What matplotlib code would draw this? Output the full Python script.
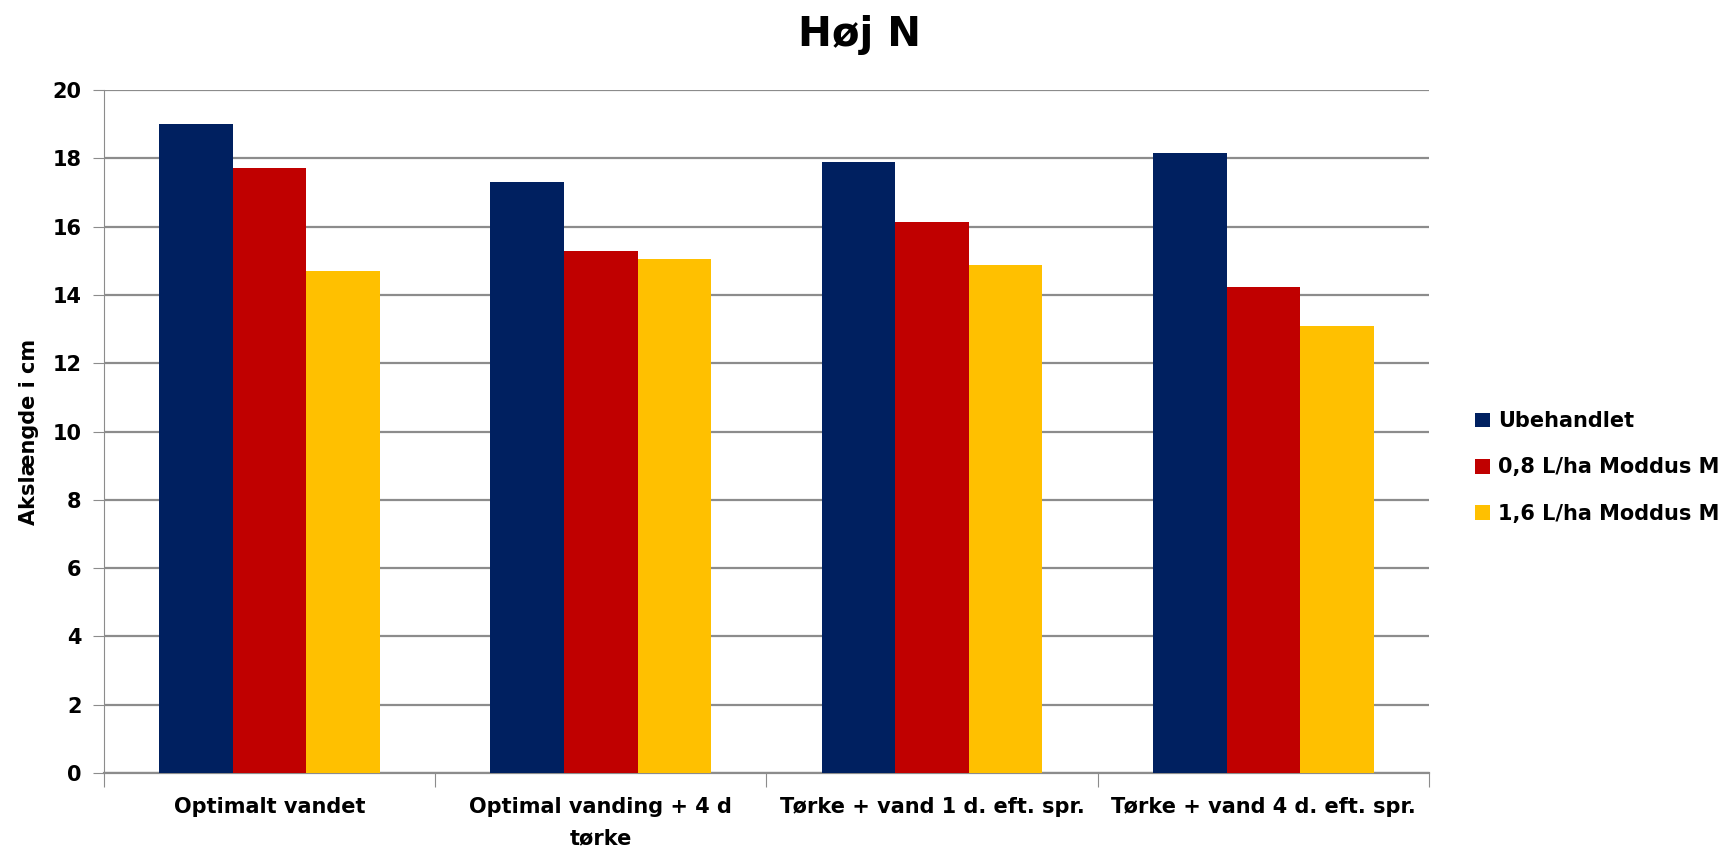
import numpy as np
import matplotlib.pyplot as plt
from matplotlib.patches import Patch

# data
categories = ["Optimalt vandet", "Optimal vanding + 4 d\ntørke",
              "Tørke + vand 1 d. eft. spr.", "Tørke + vand 4 d. eft. spr."]
series_names = ["Ubehandlet", "0,8 L/ha Moddus M", "1,6 L/ha Moddus M"]
ubehandlet = [19.0, 17.31, 17.89, 18.17]
moddus_08 = [17.71, 15.30, 16.13, 14.22]
moddus_16 = [14.71, 15.05, 14.87, 13.08]
colors = ["#002060", "#C00000", "#FFC000"]

plt.rcParams['font.family'] = ['DejaVu Sans']
plt.rcParams['font.weight'] = 'bold'

fig = plt.figure(figsize=(17.3, 8.5), dpi=100)
ax = fig.add_axes([0.060, 0.0906, 0.766, 0.8034])

x = np.arange(len(categories))
w = 0.222
for i, vals in enumerate([ubehandlet, moddus_08, moddus_16]):
    ax.bar(x + (i - 1) * w, vals, width=w, color=colors[i], zorder=3)

ax.set_xlim(-0.5, len(categories) - 0.5)
ax.set_ylim(0, 20)
ax.set_yticks(range(0, 21, 2))
ax.grid(axis='y', color='#8c8c8c', linewidth=1.6, zorder=0)

for s in ['top', 'right']:
    ax.spines[s].set_visible(False)
ax.spines['left'].set_color('#8c8c8c')
ax.spines['bottom'].set_color('#8c8c8c')
ax.spines['bottom'].set_linewidth(1.6)

ax.set_xticks(np.arange(-0.5, len(categories), 1.0))
ax.set_xticklabels([])
ax.set_xticks(x, minor=True)
ax.set_xticklabels(categories, minor=True, fontsize=15, fontweight='bold',
                   linespacing=1.75)
ax.tick_params(axis='x', which='major', length=10, color='#8c8c8c')
ax.tick_params(axis='x', which='minor', length=0, pad=17)
ax.tick_params(axis='y', length=8, color='#8c8c8c', labelsize=15, pad=8)
for lbl in ax.get_yticklabels():
    lbl.set_fontweight('bold')

ax.set_ylabel("Akslængde i cm", fontsize=15, fontweight='bold', labelpad=10)
fig.suptitle("Høj N", fontsize=29, fontweight='bold', x=0.497, y=0.982)

handles = [Patch(facecolor=c) for c in colors]
fig.legend(handles, series_names, loc='center left', bbox_to_anchor=(0.842, 0.45),
           frameon=False, prop={'weight': 'bold', 'size': 15},
           handlelength=0.7, handleheight=0.7, handletextpad=0.4, labelspacing=1.25)

fig.savefig("out.png", dpi=100)
